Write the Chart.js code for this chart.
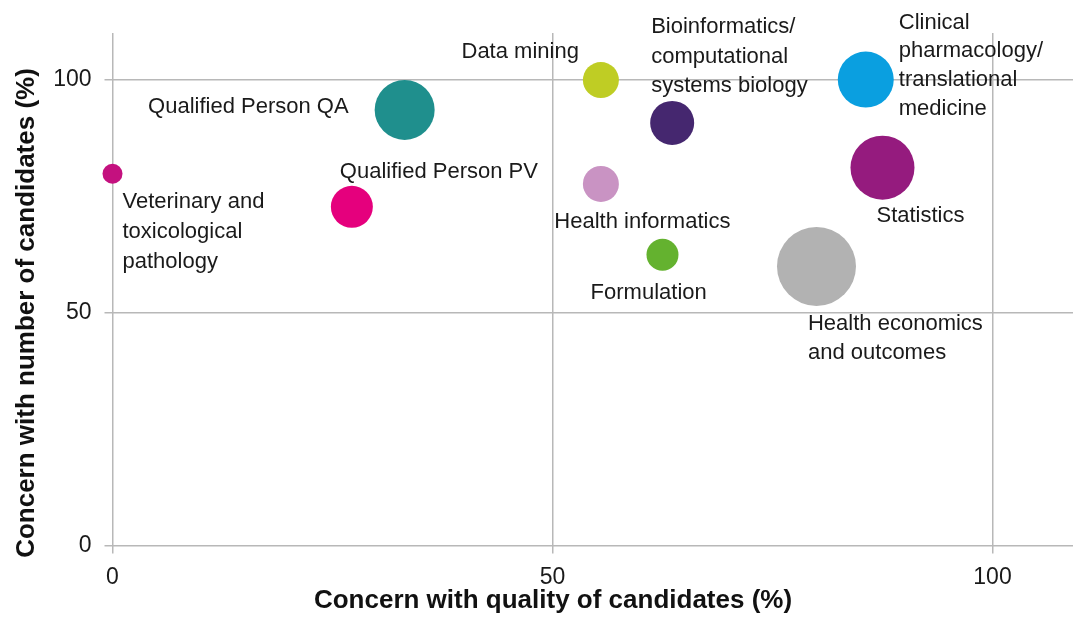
<!DOCTYPE html>
<html lang="en">
<head>
    <meta charset="UTF-8">
    <title>Concern with candidates by skill area</title>
    <script src="https://cdn.jsdelivr.net/npm/chart.js"></script>
    <style>
        body { margin: 0; background: #fff; }
        canvas { display: block; }
    </style>
</head>
<body>
    <canvas id="bubbleChart" width="1073" height="625"></canvas>
    <script>
        // values
        const areas = ["Veterinary and toxicological pathology", "Qualified Person PV", "Qualified Person QA",
            "Data mining", "Bioinformatics/ computational systems biology", "Clinical pharmacology/ translational medicine",
            "Statistics", "Health informatics", "Formulation", "Health economics and outcomes"];
        const quality = [0, 27.2, 33.2, 55.5, 63.6, 85.6, 87.5, 55.5, 62.5, 80.0];
        const number = [79.8, 72.7, 93.5, 99.9, 90.7, 100, 81.1, 77.6, 62.4, 59.9];
        const sizes = [10, 21, 30, 18, 22, 28, 32, 18, 16, 39.5];
        const colors = ["#c4117f", "#e5007d", "#1f8f8d", "#bfcd24", "#45276f", "#0a9fe0", "#951b7e", "#c993c3", "#64b22f", "#b2b2b2"];
        const xTicks = [0, 50, 100];
        const yTicks = [0, 50, 100];

        // how each name is broken and where it sits relative to its bubble
        const labelLines = [
            ["Veterinary and", "toxicological", "pathology"],
            ["Qualified Person PV"],
            ["Qualified Person QA"],
            ["Data mining"],
            ["Bioinformatics/", "computational", "systems biology"],
            ["Clinical", "pharmacology/", "translational", "medicine"],
            ["Statistics"],
            ["Health informatics"],
            ["Formulation"],
            ["Health economics", "and outcomes"]
        ];
        const labelPlace = [
            { dx: 10, dy: 26, lh: 30, align: "left" },
            { dx: -12, dy: -37, lh: 30, align: "left" },
            { dx: -56, dy: -5, lh: 30, align: "right" },
            { dx: -22, dy: -30, lh: 30, align: "right" },
            { dx: -21, dy: -97.5, lh: 29.5, align: "left" },
            { dx: 33, dy: -59, lh: 28.7, align: "left" },
            { dx: -6, dy: 46, lh: 30, align: "left" },
            { dx: 41.5, dy: 35.7, lh: 30, align: "center" },
            { dx: -13.8, dy: 36, lh: 30, align: "center" },
            { dx: -8.5, dy: 55.5, lh: 29.5, align: "left" }
        ];

        const FONT = "'Liberation Sans', Arial, sans-serif";

        const bubbleLabels = {
            id: "bubbleLabels",
            afterDatasetsDraw(chart) {
                const ctx = chart.ctx;
                const meta = chart.getDatasetMeta(0);
                ctx.save();
                ctx.font = "22px " + FONT;
                ctx.fillStyle = "#1a1a1a";
                ctx.textBaseline = "alphabetic";
                meta.data.forEach((pt, i) => {
                    const p = labelPlace[i];
                    ctx.textAlign = p.align;
                    labelLines[i].forEach((line, j) => {
                        ctx.fillText(line, pt.x + p.dx, pt.y + p.dy + j * p.lh + 8);
                    });
                });
                ctx.restore();
            }
        };

        // axis titles sit off-centre in the original, so draw them by hand
        const axisTitles = {
            id: "axisTitles",
            afterDraw(chart) {
                const ctx = chart.ctx;
                ctx.save();
                ctx.font = "bold 26px " + FONT;
                ctx.fillStyle = "#111";
                ctx.textAlign = "center";
                ctx.textBaseline = "alphabetic";
                ctx.fillText("Concern with quality of candidates (%)", 553, 608);
                ctx.translate(34, 313);
                ctx.rotate(-Math.PI / 2);
                ctx.fillText("Concern with number of candidates (%)", 0, 0);
                ctx.restore();
            }
        };

        const gridStyle = { color: "#b8b8b8", lineWidth: 1.5, tickLength: 8 };
        const tickFont = { family: FONT, size: 23 };

        new Chart(document.getElementById("bubbleChart"), {
            type: "bubble",
            data: {
                datasets: [{
                    label: "Skill areas",
                    data: areas.map((a, i) => ({ x: quality[i], y: number[i], r: sizes[i] })),
                    backgroundColor: colors,
                    borderWidth: 0,
                    hoverRadius: 0,
                    clip: false
                }]
            },
            options: {
                responsive: false,
                animation: false,
                events: [],
                layout: { autoPadding: false, padding: { top: 33, right: 0, bottom: 0, left: 0 } },
                plugins: { legend: { display: false }, tooltip: { enabled: false } },
                scales: {
                    x: {
                        type: "linear",
                        min: 0,
                        max: 109.15,
                        afterBuildTicks: s => { s.ticks = xTicks.map(v => ({ value: v })); },
                        afterFit: s => { s.height = 79.5; },
                        grid: gridStyle,
                        border: { display: false },
                        ticks: { font: tickFont, color: "#1a1a1a", padding: 10, maxRotation: 0 }
                    },
                    y: {
                        type: "linear",
                        min: 0,
                        max: 110,
                        afterBuildTicks: s => { s.ticks = yTicks.map(v => ({ value: v })); },
                        afterFit: s => { s.width = 112.5; },
                        grid: gridStyle,
                        border: { display: false },
                        ticks: { font: tickFont, color: "#1a1a1a", padding: 13 }
                    }
                }
            },
            plugins: [bubbleLabels, axisTitles]
        });
    </script>
</body>
</html>
